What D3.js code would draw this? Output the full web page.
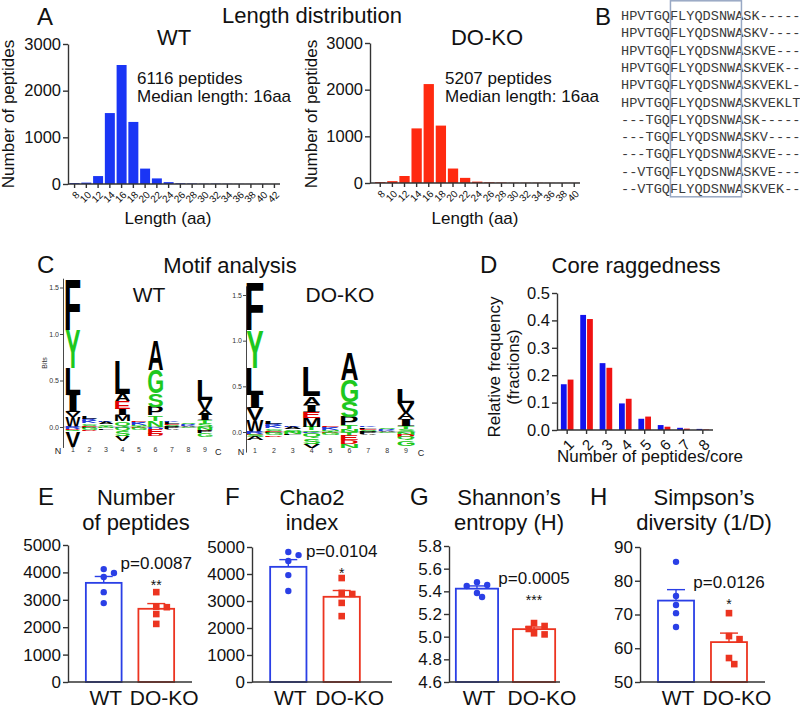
<!DOCTYPE html>
<html><head><meta charset="utf-8">
<script src="https://cdn.jsdelivr.net/npm/d3@7"></script>
<style>
body{margin:0;background:#fff;}
svg{display:block;font-family:"Liberation Sans",Arial,Helvetica,sans-serif;}
</style></head><body>
<svg id="chart" width="800" height="708"></svg>
<script>
// ---------------- DATA ----------------
const lengthTicksWT = [8,10,12,14,16,18,20,22,24,26,28,30,32,34,36,38,40,42];
const lengthCountsWT = [20,30,170,1520,2550,1330,330,120,40,15,10,5,8,5,3,2,2,1];
const lengthTicksKO = [8,10,12,14,16,18,20,22,24,26,28,30,32,34,36,38,40];
const lengthCountsKO = [20,40,150,1170,2120,1230,310,110,30,15,10,5,5,5,3,2,2];
const histTitles = ["WT","DO-KO"];
const histPeptides = ["6116 peptides","5207 peptides"];
const histMedian = ["Median length: 16aa","Median length: 16aa"];

const alignmentRows = [
 "HPVTGQFLYQDSNWASK-----",
 "HPVTGQFLYQDSNWASKV----",
 "HPVTGQFLYQDSNWASKVE---",
 "HPVTGQFLYQDSNWASKVEK--",
 "HPVTGQFLYQDSNWASKVEKL-",
 "HPVTGQFLYQDSNWASKVEKLT",
 "---TGQFLYQDSNWASK-----",
 "---TGQFLYQDSNWASKV----",
 "---TGQFLYQDSNWASKVE---",
 "--VTGQFLYQDSNWASKVE---",
 "--VTGQFLYQDSNWASKVEK--"
];
const coreStart = 6, coreLength = 9;

const logoPositions = [1,2,3,4,5,6,7,8,9];
// each position: letters stacked upward from 0 (up) and downward from 0 (down), in bits
const logoWT = [
 {up:[["W",0.11],["V",0.05],["I",0.20],["L",0.27],["Y",0.41],["F",0.54]], down:[["R",0.02],["D",0.01],["Q",0.02],["V",0.16]]},
 {up:[["E",0.01],["S",0.015],["G",0.015],["K",0.025],["R",0.02],["L",0.02]], down:[["P",0.01],["G",0.02],["D",0.015]]},
 {up:[["T",0.015],["S",0.015],["A",0.02],["K",0.015]], down:[["N",0.015],["L",0.015]]},
 {up:[["Q",0.06],["M",0.065],["I",0.07],["E",0.08],["A",0.08],["L",0.36]], down:[["R",0.01],["Q",0.03],["S",0.06],["V",0.05]]},
 {up:[["T",0.01],["N",0.01],["K",0.02],["R",0.015],["E",0.01]], down:[["D",0.01],["G",0.02]]},
 {up:[["N",0.065],["T",0.06],["P",0.09],["S",0.145],["G",0.25],["A",0.32]], down:[["K",0.01],["H",0.01],["E",0.05],["D",0.025]]},
 {up:[["G",0.01],["S",0.015],["E",0.01],["L",0.02],["K",0.01]], down:[["P",0.02],["A",0.01]]},
 {up:[["A",0.01],["K",0.015],["R",0.01],["S",0.01]], down:[["G",0.015]]},
 {up:[["S",0.035],["T",0.035],["I",0.055],["A",0.055],["V",0.11],["L",0.22]], down:[["N",0.03],["D",0.01],["P",0.03],["G",0.04]]}
];
const logoKO = [
 {up:[["W",0.13],["V",0.13],["I",0.15],["L",0.29],["Y",0.41],["F",0.52]], down:[["R",0.02],["E",0.01],["S",0.02],["A",0.04]]},
 {up:[["E",0.01],["S",0.015],["G",0.015],["K",0.025],["R",0.02],["L",0.02]], down:[["P",0.015],["G",0.02],["D",0.015]]},
 {up:[["T",0.015],["S",0.015],["A",0.02],["K",0.01]], down:[["N",0.02],["L",0.015]]},
 {up:[["Q",0.02],["T",0.035],["M",0.095],["E",0.07],["I",0.08],["A",0.09],["L",0.32]], down:[["K",0.01],["Q",0.06],["S",0.06],["V",0.04]]},
 {up:[["T",0.01],["N",0.01],["K",0.02],["R",0.015],["E",0.01]], down:[["D",0.01],["G",0.025]]},
 {up:[["N",0.03],["T",0.04],["P",0.095],["S",0.165],["G",0.24],["A",0.30]], down:[["T",0.04],["E",0.05],["D",0.04],["N",0.04]]},
 {up:[["G",0.01],["S",0.015],["E",0.01],["L",0.015],["K",0.01]], down:[["P",0.02],["A",0.01]]},
 {up:[["A",0.01],["K",0.015],["R",0.01],["S",0.01]], down:[["G",0.015]]},
 {up:[["S",0.03],["T",0.03],["I",0.08],["A",0.07],["V",0.11],["L",0.15]], down:[["N",0.03],["D",0.02],["Q",0.04],["G",0.06]]}
];

const raggedCats = [1,2,3,4,5,6,7,8];
const raggedWT = [0.167,0.420,0.244,0.097,0.041,0.018,0.008,0.004];
const raggedKO = [0.184,0.405,0.227,0.114,0.049,0.012,0.005,0.002];

const groups = ["WT","DO-KO"];
const peptidesWT = [4120,3980,3830,3280,2880];
const peptidesKO = [3280,2750,2730,2480,2120];
const chao2WT = [4815,4700,4480,3960,3370];
const chao2KO = [3850,3300,3260,2930,2440];
const shannonWT = [5.48,5.456,5.447,5.385,5.35];
const shannonKO = [5.12,5.094,5.068,5.03,5.02];
const simpsonWT = [85.6,75.5,72.8,70.4,66.3];
const simpsonKO = [70.4,63.6,62.7,57.1,55.3];
const pTexts = ["p=0.0087","p=0.0104","p=0.0005","p=0.0126"];
const starTexts = ["**","*","***","*"];

// ---------------- DRAWING ----------------
const svg = d3.select("#chart");
svg.append("rect").attr("width",800).attr("height",708).attr("fill","#fff");
const FONT = '"Liberation Sans", Arial, Helvetica, sans-serif';
const AX = "#333";
const BLUE = "#1a35f5", RED = "#ff2a10";

function txt(x,y,s,fs,o={}){
  const t = svg.append("text").attr("x",x).attr("y",y).text(s)
    .style("font-size",fs+"px").attr("fill",o.fill||"#111")
    .attr("text-anchor",o.anchor||"start").style("font-family",o.family||FONT);
  if(o.rotate) t.attr("transform",`rotate(${o.rotate},${x},${y})`);
  if(o.weight) t.style("font-weight",o.weight);
  return t;
}
function styleAxis(sel, fs){
  sel.attr("font-family",FONT).attr("font-size",null);
  sel.select(".domain").attr("stroke",AX).attr("stroke-width",1.4);
  sel.selectAll(".tick line").attr("stroke",AX).attr("stroke-width",1.4);
  sel.selectAll(".tick text").attr("fill","#111").style("font-size",fs+"px");
}

// ---- Panel A ----
txt(37,25,"A",24);
txt(312,23,"Length distribution",22,{anchor:"middle"});
function histogram(c){
  const g = svg.append("g");
  const x = d3.scaleBand().domain(c.cats).range([c.x0,c.x1]).paddingInner(0.15).paddingOuter(0.05);
  const y = d3.scaleLinear().domain([0,3000]).range([c.yb,c.yt]);
  g.selectAll("rect").data(c.vals).join("rect")
    .attr("x",(d,i)=>x(c.cats[i])).attr("width",x.bandwidth())
    .attr("y",d=>y(d)).attr("height",d=>c.yb-y(d)).attr("fill",c.color);
  const ya = g.append("g").attr("transform",`translate(${c.axisX},0)`)
    .call(d3.axisLeft(y).tickValues([0,1000,2000,3000]).tickFormat(d3.format("d")).tickSize(5).tickPadding(2).tickSizeOuter(0));
  styleAxis(ya,16.5);
  const xa = g.append("g").attr("transform",`translate(0,${c.yb})`)
    .call(d3.axisBottom(x).tickSize(4).tickSizeOuter(0));
  styleAxis(xa,10);
  xa.select(".domain").remove();
  xa.append("line").attr("x1",c.axisX).attr("x2",c.x1).attr("stroke",AX).attr("stroke-width",1.4);
  xa.selectAll(".tick text").attr("x",0).attr("y",0).attr("dy","0.35em")
    .attr("transform","translate(3,9) rotate(-45)").style("text-anchor","end");
}
histogram({cats:lengthTicksWT, vals:lengthCountsWT, x0:69, x1:280, axisX:68, yb:184, yt:44, color:BLUE});
histogram({cats:lengthTicksKO, vals:lengthCountsKO, x0:374.5, x1:580, axisX:370, yb:183, yt:43, color:RED});
txt(174,45,histTitles[0],22,{anchor:"middle"});
txt(487,45,histTitles[1],22,{anchor:"middle"});
txt(137,84,histPeptides[0],17); txt(137,102,histMedian[0],17);
txt(445,84,histPeptides[1],17); txt(445,102,histMedian[1],17);
txt(14,114,"Number of peptides",17,{anchor:"middle",rotate:-90});
txt(317,114,"Number of peptides",17,{anchor:"middle",rotate:-90});
txt(168,224,"Length (aa)",17,{anchor:"middle"});
txt(475,224,"Length (aa)",17,{anchor:"middle"});

// ---- Panel B ----
txt(595,25,"B",24);
{
  const fs = 13.6, cw = fs*0.6;
  const cx = d3.scaleLinear().domain([0,1]).range([621,621+cw]);
  const ry = d3.scaleLinear().domain([0,1]).range([20,37.3]);
  svg.append("g").selectAll("text").data(alignmentRows).join("text")
    .attr("x",cx(0)).attr("y",(d,i)=>ry(i)).text(d=>d)
    .style("font-family",'"Liberation Mono","Courier New",monospace').style("font-size",fs+"px")
    .attr("fill","#3a3a3a").attr("xml:space","preserve");
  svg.append("rect").attr("x",cx(coreStart)+0.5).attr("y",0.8)
    .attr("width",cx(coreStart+coreLength-0.3)-cx(coreStart)).attr("height",196)
    .attr("fill","none").attr("stroke","#98a8c4").attr("stroke-width",1.5);
}

// ---- Panel C ----
txt(37,273,"C",24);
txt(230,273,"Motif analysis",22,{anchor:"middle"});
const LCOL = {F:"#000",L:"#000",I:"#000",V:"#000",W:"#000",M:"#000",A:"#000",P:"#000",
  Y:"#1ec81e",G:"#1ec81e",S:"#1ec81e",T:"#1ec81e",N:"#1ec81e",Q:"#1ec81e",C:"#1ec81e",
  E:"#e00000",D:"#e00000",K:"#2038d8",R:"#2038d8",H:"#2038d8"};
const mctx = document.createElement("canvas").getContext("2d");
const metricCache = {};
function glyphMetrics(ch, fam){
  const key = ch+fam;
  if(metricCache[key]) return metricCache[key];
  mctx.font = `bold 100px ${fam}`;
  const m = mctx.measureText(ch);
  const r = {l:m.actualBoundingBoxLeft, r:m.actualBoundingBoxRight, a:m.actualBoundingBoxAscent, d:m.actualBoundingBoxDescent};
  metricCache[key]=r; return r;
}
function drawLetter(g, ch, xl, w, yTop, yBot){
  const h = yBot - yTop; if(h < 0.3) return;
  const fam = ch==="I" ? '"Liberation Serif"' : '"Liberation Sans"';
  const m = glyphMetrics(ch, fam);
  const sx = w/(m.l+m.r), sy = h/(m.a+m.d);
  g.append("text").text(ch).attr("font-size",100).attr("font-weight","bold")
    .style("font-family",fam).attr("fill",LCOL[ch]||"#000")
    .attr("transform",`translate(${xl + m.l*sx},${yBot - m.d*sy}) scale(${sx},${sy})`);
}
function logo(c){
  const g = svg.append("g");
  const x = d3.scaleLinear().domain([1,9]).range(c.xr);
  const step = (c.xr[1]-c.xr[0])/8;
  const w = step*0.9;
  const y = d3.scaleLinear().domain([0,1.5]).range(c.yr);
  g.append("line").attr("x1",c.axisX).attr("x2",x(9)+step*0.5).attr("y1",y(0)).attr("y2",y(0))
    .attr("stroke","#999").attr("stroke-width",0.8);
  c.data.forEach((p,i)=>{
    const xl = x(logoPositions[i]) - w/2;
    let acc = 0;
    p.up.forEach(([ch,b])=>{ drawLetter(g,ch,xl,w,y(acc+b),y(acc)); acc+=b; });
    acc = 0;
    p.down.forEach(([ch,b])=>{ drawLetter(g,ch,xl,w,y(acc),y(acc-b)); acc-=b; });
  });
  const yAxisScale = y.copy().domain([-0.22,1.6]).range([y(-0.22),y(1.6)]);
  const ya = g.append("g").attr("transform",`translate(${c.axisX},0)`)
    .call(d3.axisLeft(yAxisScale).tickValues([0,0.5,1,1.5]).tickFormat(d3.format(".1f")).tickSize(3).tickPadding(1).tickSizeOuter(0));
  styleAxis(ya,7);
  ya.select(".domain").attr("stroke-width",0.9);
  ya.selectAll(".tick line").attr("stroke-width",0.9);
  ya.selectAll(".tick text").attr("fill","#333");
  const yb = c.labelY;
  g.append("g").selectAll("text").data(logoPositions).join("text")
    .attr("x",d=>x(d)).attr("y",yb).text(d=>d).attr("text-anchor","middle")
    .style("font-size","7px").attr("fill","#333");
  g.append("text").attr("x",c.axisX-5).attr("y",yb+2).text("N").attr("text-anchor","middle").style("font-size","9px").attr("fill","#222");
  g.append("text").attr("x",x(9)+step*0.8).attr("y",yb+3).text("C").attr("text-anchor","middle").style("font-size","9px").attr("fill","#222");
}
logo({data:logoWT, xr:[73,205], yr:[427,287.5], axisX:63, labelY:452});
logo({data:logoKO, xr:[255,406], yr:[432,295], axisX:246, labelY:453});
txt(47,363,"Bits",7,{anchor:"middle",rotate:-90,fill:"#333"});
txt(149,302,"WT",21,{anchor:"middle"});
txt(340,302,"DO-KO",21,{anchor:"middle"});

// ---- Panel D ----
txt(480,273,"D",24);
txt(636,273,"Core raggedness",22,{anchor:"middle"});
{
  const g = svg.append("g");
  const x = d3.scaleBand().domain(raggedCats).range([557,713]).paddingInner(0.35).paddingOuter(0.2);
  const sub = d3.scaleBand().domain([0,1]).range([0,x.bandwidth()]).paddingInner(0.15);
  const y = d3.scaleLinear().domain([0,0.5]).range([430,293]);
  [[raggedWT,"#1212ee"],[raggedKO,"#f01212"]].forEach(([vals,col],k)=>{
    g.append("g").selectAll("rect").data(vals).join("rect")
      .attr("x",(d,i)=>x(raggedCats[i])+sub(k)).attr("width",sub.bandwidth())
      .attr("y",d=>y(d)).attr("height",d=>430-y(d)).attr("fill",col);
  });
  const ya = g.append("g").attr("transform","translate(557,0)")
    .call(d3.axisLeft(y).tickValues([0,0.1,0.2,0.3,0.4,0.5]).tickFormat(d3.format(".1f")).tickSize(5).tickPadding(2).tickSizeOuter(0));
  styleAxis(ya,16.5);
  const xa = g.append("g").attr("transform","translate(0,430)")
    .call(d3.axisBottom(x).tickSize(4).tickSizeOuter(0));
  styleAxis(xa,15);
  xa.select(".domain").remove();
  xa.append("line").attr("x1",557).attr("x2",713).attr("stroke",AX).attr("stroke-width",1.4);
  xa.selectAll(".tick text").attr("x",0).attr("y",0).attr("dy","0.35em")
    .attr("transform","translate(4,12) rotate(-45)").style("text-anchor","end");
}
txt(500,367,"Relative frequency",17,{anchor:"middle",rotate:-90});
txt(519,367,"(fractions)",17,{anchor:"middle",rotate:-90});
txt(650,462,"Number of peptides/core",17,{anchor:"middle"});

// ---- Panels E-H ----
const dotPanels = [
 {letter:"E", lx:38, title:["Number","of peptides"], tx:136, wt:peptidesWT, ko:peptidesKO, domain:[0,5000], ticks:[0,1000,2000,3000,4000,5000], fmt:d3.format("d"),
  axisX:68, axisEnd:192, band:[68,192], pi:0.32, po:0.34, yTop:545, pY:569},
 {letter:"F", lx:225, title:["Chao2","index"], tx:312, wt:chao2WT, ko:chao2KO, domain:[0,5000], ticks:[0,1000,2000,3000,4000,5000], fmt:d3.format("d"),
  axisX:252, axisEnd:392, band:[252,378], pi:0.32, po:0.34, yTop:547, pY:557},
 {letter:"G", lx:410, title:["Shannon\u2019s","entropy (H)"], tx:509, wt:shannonWT, ko:shannonKO, domain:[4.6,5.8], ticks:[4.6,4.8,5.0,5.2,5.4,5.6,5.8], fmt:d3.format(".1f"),
  axisX:449, axisEnd:560, band:[449,562], pi:0.26, po:0.12, yTop:546, pY:584},
 {letter:"H", lx:590, title:["Simpson\u2019s","diversity (1/D)"], tx:704, wt:simpsonWT, ko:simpsonKO, domain:[50,90], ticks:[50,60,70,80,90], fmt:d3.format("d"),
  axisX:640, axisEnd:765, band:[640,765], pi:0.32, po:0.34, yTop:547, pY:588}
];
const groupLabelShift = [2, 8];
function swarm(vals, y, r){
  const placed = [];
  return vals.map(v=>{
    const py = y(v);
    for(const s of [0,1,-1,2,-2,3,-3]){
      const px = s*r*1.6;
      if(placed.every(p=>Math.hypot(p[0]-px,p[1]-py) >= 2*r)){ placed.push([px,py]); return px; }
    }
    return 0;
  });
}
dotPanels.forEach((c,idx)=>{
  txt(c.lx,505,c.letter,24);
  txt(c.tx,505,c.title[0],22,{anchor:"middle"});
  txt(c.tx,530,c.title[1],22,{anchor:"middle"});
  const g = svg.append("g");
  const base = 682;
  const y = d3.scaleLinear().domain(c.domain).range([base,c.yTop]);
  const x = d3.scaleBand().domain(groups).range(c.band).paddingInner(c.pi).paddingOuter(c.po);
  const sets = [[c.wt,"#2a3fe6","circle"],[c.ko,"#ec3420","square"]];
  sets.forEach(([vals,col,shape],k)=>{
    const grp = groups[k];
    const m = d3.mean(vals), sem = d3.deviation(vals)/Math.sqrt(vals.length);
    const cx = x(grp)+x.bandwidth()/2;
    g.append("line").attr("x1",cx).attr("x2",cx).attr("y1",y(m)).attr("y2",y(m+sem)).attr("stroke",col).attr("stroke-width",1.4);
    g.append("line").attr("x1",cx-9).attr("x2",cx+9).attr("y1",y(m+sem)).attr("y2",y(m+sem)).attr("stroke",col).attr("stroke-width",1.4);
    g.append("rect").attr("x",x(grp)).attr("width",x.bandwidth()).attr("y",y(m)).attr("height",base-y(m))
      .attr("fill","none").attr("stroke",col).attr("stroke-width",1.8);
    const r = shape==="circle"?3.2:3.3;
    const off = swarm(vals,y,r);
    if(shape==="circle"){
      g.append("g").selectAll("circle").data(vals).join("circle")
        .attr("cx",(d,i)=>cx+off[i]).attr("cy",d=>y(d)).attr("r",r).attr("fill",col);
    } else {
      g.append("g").selectAll("rect").data(vals).join("rect")
        .attr("x",(d,i)=>cx+off[i]-r).attr("y",d=>y(d)-r).attr("width",2*r).attr("height",2*r).attr("fill",col);
    }
    txt(cx+groupLabelShift[k], 705, grp, 21, {anchor:"middle"});
    if(k===1){
      txt(cx, c.pY, pTexts[idx], 17, {anchor:"middle"});
      txt(cx, c.pY+21, starTexts[idx], 14, {anchor:"middle"});
    }
  });
  const ya = g.append("g").attr("transform",`translate(${c.axisX},0)`)
    .call(d3.axisLeft(y).tickValues(c.ticks).tickFormat(c.fmt).tickSize(5).tickPadding(2).tickSizeOuter(0));
  styleAxis(ya,17);
  g.append("line").attr("x1",c.axisX).attr("x2",c.axisEnd).attr("y1",base).attr("y2",base).attr("stroke",AX).attr("stroke-width",1.6);
});
</script>
</body></html>
